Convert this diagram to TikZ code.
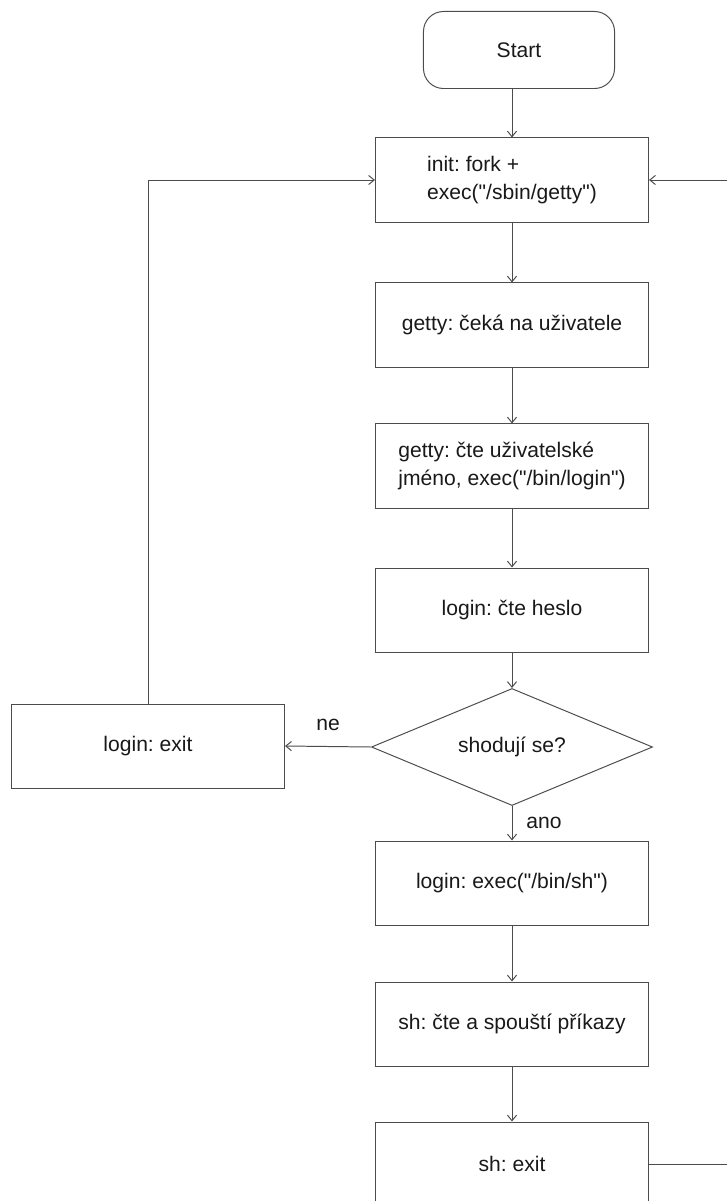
\documentclass[tikz,border=0pt]{standalone}
\usepackage{fontspec}
\newfontfamily\flowfont{Liberation Sans}
\usetikzlibrary{arrows.meta,shapes.geometric}
\tikzset{>={Straight Barb[length=4pt,width=6.5pt]}}
\frenchspacing
\definecolor{ln}{gray}{.3}
\definecolor{tx}{gray}{.1}
\tikzset{
    every node/.style={text=tx, font=\flowfont\fontsize{15}{19.8}\selectfont},
    box/.style={draw=ln, line width=.7pt, align=left, minimum width=6.825cm, minimum height=2.1cm},
    term/.style={box, rounded corners=.5cm, minimum width=4.775cm, minimum height=1.925cm},
    test/.style={diamond, draw=ln, line width=.7pt, aspect=2.4, inner sep=0pt, minimum width=7.025cm, minimum height=2.925cm},
    link/.style={->, draw=ln, line width=.7pt}
}
\begin{document}
\begin{tikzpicture}[x=.025cm, y=-.025cm]
    \useasboundingbox(0, 0) rectangle (726, 1201);
    \node[term] (start) at (519, 50) {Start};
    \node[box] (init) at (512, 180) {init: fork +\\exec("/sbin/getty")};
    \node[box] (wait) at (512, 325) {getty: čeká na uživatele};
    \node[box] (read) at (512, 466) {getty: čte uživatelské\\jméno, exec("/bin/login")};
    \node[box] (pass) at (512, 610) {login: čte heslo};
    \node[test] (check) at (512, 747) {shodují se?};		%diamond
    \node[box] (exit) at (148, 746) {login: exit};
    \node[box] (shell) at (512, 883) {login: exec("/bin/sh")};
    \node[box] (cmds) at (512, 1024) {sh: čte a spouští příkazy};
    \node[box] (quit) at (512, 1164) {sh: exit};
    \draw[link] (init.north |- start.south) -- (init.north);
    \draw[link] (init) -- (wait);
    \draw[link] (wait) -- (read);
    \draw[link] (read) -- (pass);
    \draw[link] (pass) -- (check);
    \draw[link] (check.west) -- (exit.east) node[midway, above=7.7pt]{ne};		%no
    \draw[link] (check.south) -- (shell.north) node[midway, right=6.5pt]{ano};	%yes
    \draw[link] (shell) -- (cmds);
    \draw[link] (cmds) -- (quit);
    \draw[link] (exit.north) |- (init.west);			%back to init
    \draw[link] (quit.east) -- ++(120, 0) |- (init.east);	%runs off the page
\end{tikzpicture}
\end{document}
